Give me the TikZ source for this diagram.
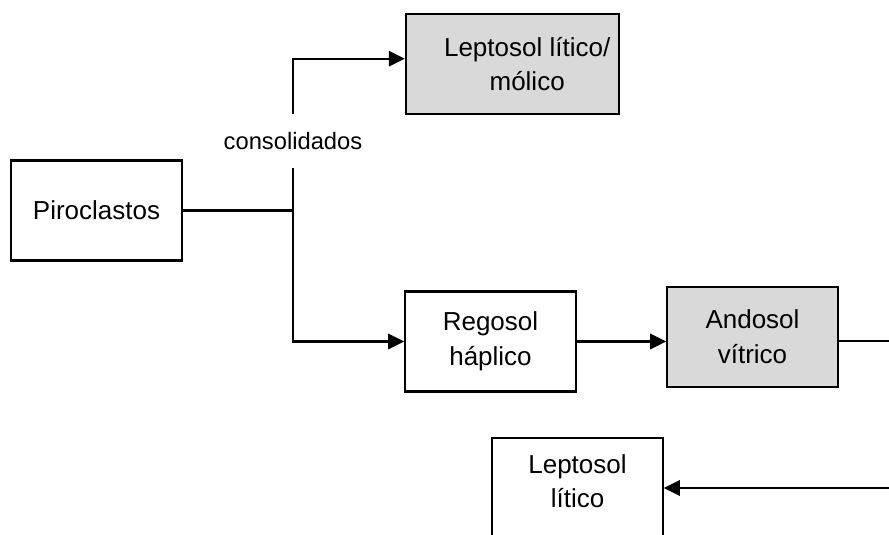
\documentclass[tikz,border=0pt]{standalone}
\usepackage{fontspec}
\setmainfont{Liberation Sans}
\usetikzlibrary{arrows.meta}
\definecolor{suelogris}{RGB}{217,217,217}

\begin{document}
\begin{tikzpicture}[x=0.75pt, y=-0.75pt,
    caja/.style={draw, line width=1.6pt, minimum width=128pt, minimum height=75pt,
                 align=center, font=\fontsize{19.5}{26}\selectfont},
    cajagris/.style={caja, fill=suelogris},
    linea/.style={line width=1.6pt},
    flecha/.style={linea, -{Triangle[length=12pt,width=11.5pt]}}]
    \clip (0,0) rectangle (889,535);

    \node[caja] (piro) at (96.5,210.5) {Piroclastos};
    \node[cajagris, minimum width=160pt,
          label={[align=center, font=\fontsize{19.5}{26}\selectfont, xshift=11pt]center:Leptosol lítico/\\mólico}]
          (lepmol) at (512.5,64) {};
    \node[caja] (rego) at (490.5,341.5) {Regosol\\háplico};
    \node[cajagris] (ando) at (752.5,337) {Andosol\\vítrico};
    \node[caja, label={[align=center, font=\fontsize{19.5}{26}\selectfont, yshift=5pt]center:Leptosol\\lítico}]
          (lepl) at (577.5,488) {};

    % rama de los consolidados
    \node[fill=white, minimum height=40pt, font=\fontsize{17.8}{22}\selectfont] (cons) at (293,141) {consolidados};
    \coordinate (split) at (293,210.5);
    \coordinate (borde1) at (889,341);
    \coordinate (borde2) at (889,488);

    \draw[linea] (piro.east) -- (split) -- (cons.south);
    \draw[flecha] (cons.north) |- ([yshift=4pt]lepmol.west);
    \draw[flecha] (split) |- (rego.west);
    \draw[flecha] (rego.east) -- (rego.east -| ando.west);
    \draw[linea] (ando.east |- borde1) -- (borde1);
    \draw[flecha] (borde2) -- (lepl.east);
\end{tikzpicture}
\end{document}
